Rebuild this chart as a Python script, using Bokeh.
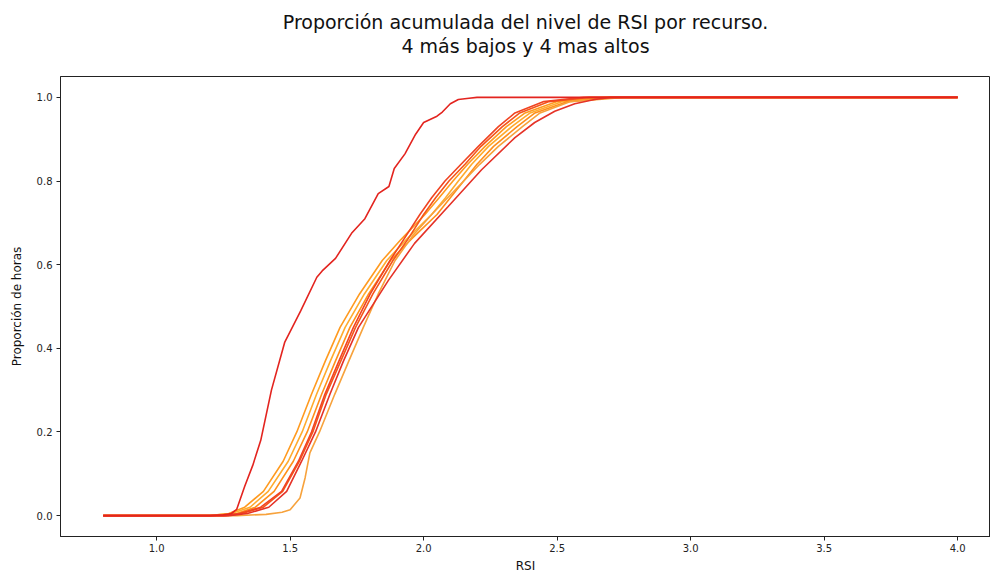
from bokeh.plotting import figure
from bokeh.models import FixedTicker, PrintfTickFormatter, Range1d, Title
from bokeh.embed import file_html
from bokeh.resources import INLINE

# --- data ---
title_lines = ["Proporción acumulada del nivel de RSI por recurso.", "4 más bajos y 4 mas altos"]
x_ticks = [1.0, 1.5, 2.0, 2.5, 3.0, 3.5, 4.0]
y_ticks = [0.0, 0.2, 0.4, 0.6, 0.8, 1.0]

a_x = [0.8, 1.0, 1.2, 1.25, 1.28, 1.30, 1.33, 1.36, 1.39, 1.43, 1.48, 1.54, 1.60, 1.62, 1.67, 1.73, 1.78,
       1.83, 1.87, 1.89, 1.93, 1.97, 2.0, 2.05, 2.07, 2.1, 2.13, 2.17, 2.2, 2.5, 3.0, 3.5, 4.0]
a_y = [0, 0, 0, 0.002, 0.005, 0.015, 0.07, 0.12, 0.18, 0.30, 0.415, 0.49, 0.57, 0.585, 0.615, 0.675, 0.71,
       0.77, 0.787, 0.83, 0.865, 0.912, 0.94, 0.955, 0.965, 0.985, 0.995, 0.998, 1.0, 1.0, 1.0, 1.0, 1.0]

lv_y = [0, 0, 0.005, 0.02, 0.058, 0.13, 0.20, 0.29, 0.37, 0.45, 0.53, 0.61, 0.66, 0.72, 0.76, 0.80,
        0.84, 0.883, 0.93, 0.963, 0.99, 1.0, 1.0]
o1_x = [0.8, 1.2, 1.27, 1.33, 1.40, 1.474, 1.525, 1.58, 1.632, 1.687, 1.760, 1.845, 1.915, 2.005,
        2.058, 2.11, 2.165, 2.23, 2.31, 2.38, 2.5, 2.68, 4.0]
o2_x = [0.8, 1.2, 1.28, 1.35, 1.418, 1.493, 1.545, 1.599, 1.651, 1.706, 1.778, 1.862, 1.935, 2.03,
        2.082, 2.13, 2.18, 2.243, 2.33, 2.399, 2.52, 2.7, 4.0]
o3_x = [0.8, 1.22, 1.30, 1.37, 1.44, 1.512, 1.564, 1.618, 1.670, 1.724, 1.794, 1.876, 1.952, 2.05,
        2.10, 2.15, 2.20, 2.262, 2.35, 2.417, 2.54, 2.72, 4.0]
r1_x = [0.8, 1.25, 1.31, 1.39, 1.468, 1.531, 1.58, 1.63, 1.683, 1.737, 1.80, 1.874, 1.925, 1.986,
        2.03, 2.08, 2.14, 2.205, 2.28, 2.342, 2.45, 2.6, 4.0]
r2_x = [0.8, 1.26, 1.32, 1.40, 1.472, 1.535, 1.585, 1.635, 1.69, 1.745, 1.81, 1.885, 1.94, 2.0,
        2.045, 2.095, 2.155, 2.215, 2.295, 2.36, 2.47, 2.62, 4.0]

b_x = [0.8, 1.27, 1.34, 1.42, 1.487, 1.543, 1.595, 1.649, 1.70, 1.756, 1.868, 1.966, 2.092, 2.217,
       2.342, 2.416, 2.491, 2.566, 2.64, 2.7, 4.0]
b_y = [0, 0, 0.005, 0.02, 0.058, 0.13, 0.20, 0.29, 0.37, 0.45, 0.5625, 0.651, 0.739, 0.827,
       0.904, 0.94, 0.967, 0.985, 0.995, 1.0, 1.0]

l_x = [0.8, 1.30, 1.41, 1.47, 1.50, 1.537, 1.556, 1.574, 1.61, 1.667, 1.72, 1.774, 1.83, 1.893,
       1.96, 2.03, 2.09, 2.15, 2.21, 2.28, 2.37, 2.436, 2.55, 2.75, 4.0]
l_y = [0, 0, 0.003, 0.008, 0.014, 0.042, 0.09, 0.15, 0.20, 0.29, 0.37, 0.45, 0.53, 0.61,
       0.67, 0.72, 0.76, 0.80, 0.84, 0.883, 0.93, 0.963, 0.99, 1.0, 1.0]

series = [
    (o1_x, lv_y, "#ff9a1f"),
    (o2_x, lv_y, "#ffab2e"),
    (o3_x, lv_y, "#ff8f1a"),
    (l_x, l_y, "#f7a23c"),
    (r2_x, lv_y, "#f5561a"),
    (r1_x, lv_y, "#f04422"),
    (b_x, b_y, "#e53227"),
    (a_x, a_y, "#e3241f"),
]

FONT = "DejaVu Sans"

p = figure(width=990, height=577, output_backend="svg", toolbar_location=None,
           x_range=Range1d(0.64, 4.123), y_range=Range1d(-0.05, 1.05),
           min_border_left=60, min_border_right=0, min_border_top=76, min_border_bottom=41)

for xs, ys, c in series:
    p.line(xs, ys, line_color=c, line_width=1.6)

# spacer between frame and title (nearest to the frame)
p.add_layout(Title(text=" ", text_font_size="1px", standoff=17), "above")
# title lines: added nearest-first
for txt in reversed(title_lines):
    p.add_layout(Title(text=txt, align="center", text_font=FONT,
                       text_font_size="19px", text_font_style="normal", text_color="#111111",
                       standoff=0), "above")

p.xgrid.visible = False
p.ygrid.visible = False
p.outline_line_color = "#222222"
p.outline_line_width = 1
p.background_fill_color = "white"
p.border_fill_color = "white"

for ax in (p.xaxis[0], p.yaxis[0]):
    ax.minor_tick_line_color = None
    ax.major_tick_in = 0
    ax.major_tick_out = 4
    ax.major_tick_line_color = "#222222"
    ax.axis_line_color = "#222222"
    ax.major_label_text_font = FONT
    ax.major_label_text_font_size = "10px"
    ax.major_label_text_color = "#222222"
    ax.axis_label_text_font = FONT
    ax.axis_label_text_font_size = "12px"
    ax.axis_label_text_font_style = "normal"
    ax.axis_label_text_color = "#111111"
    ax.formatter = PrintfTickFormatter(format="%.1f")

p.xaxis[0].ticker = FixedTicker(ticks=x_ticks)
p.yaxis[0].ticker = FixedTicker(ticks=y_ticks)
p.xaxis[0].axis_label = "RSI"
p.yaxis[0].axis_label = "Proporción de horas"
p.xaxis[0].major_label_standoff = 3
p.xaxis[0].axis_label_standoff = 4
p.yaxis[0].major_label_standoff = 4
p.yaxis[0].axis_label_standoff = 10

open("out.html", "w").write(file_html(p, INLINE))
